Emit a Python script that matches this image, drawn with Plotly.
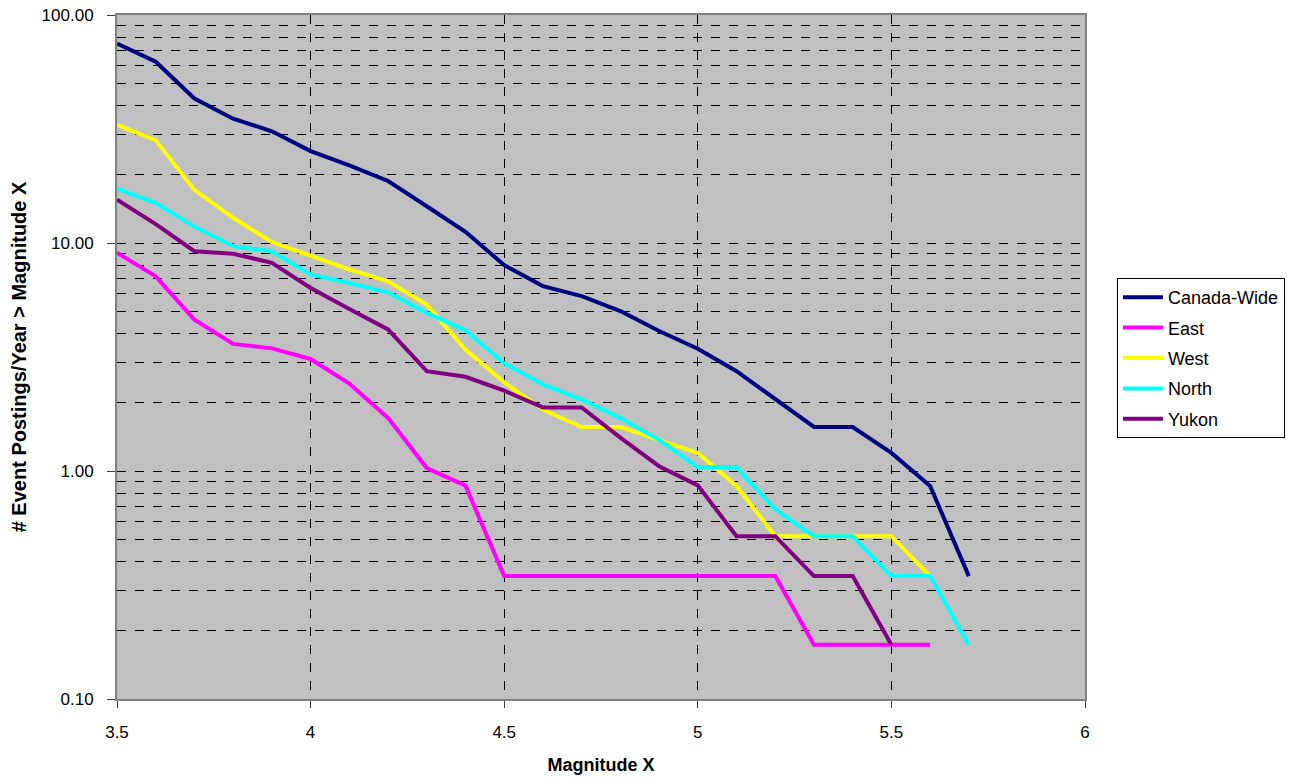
import plotly.graph_objects as go

# Magnitude thresholds (X axis)
magnitudes = [3.5, 3.6, 3.7, 3.8, 3.9, 4.0, 4.1, 4.2, 4.3, 4.4, 4.5, 4.6,
              4.7, 4.8, 4.9, 5.0, 5.1, 5.2, 5.3, 5.4, 5.5, 5.6, 5.7]

# Event postings per year above each magnitude, by region
canada_wide = [75.0, 62.4, 43.0, 35.1, 30.9, 25.3, 21.9, 18.7, 14.5, 11.2, 8.0, 6.47,
               5.85, 5.03, 4.11, 3.44, 2.74, 2.06, 1.56, 1.56, 1.20, 0.86, 0.346]
east = [9.06, 7.14, 4.61, 3.61, 3.45, 3.10, 2.42, 1.71, 1.03, 0.863, 0.346, 0.346,
        0.346, 0.346, 0.346, 0.346, 0.346, 0.346, 0.173, 0.173, 0.173, 0.173]
west = [33.1, 28.2, 17.1, 12.9, 10.1, 8.76, 7.66, 6.79, 5.37, 3.41, 2.45, 1.86,
        1.56, 1.56, 1.37, 1.20, 0.86, 0.518, 0.518, 0.518, 0.518, 0.346]
north = [17.3, 15.0, 11.8, 9.69, 9.2, 7.28, 6.68, 6.08, 4.94, 4.14, 2.97, 2.40,
         2.06, 1.71, 1.37, 1.04, 1.04, 0.68, 0.518, 0.518, 0.346, 0.346, 0.173]
yukon = [15.5, 12.1, 9.2, 8.97, 8.19, 6.35, 5.14, 4.18, 2.74, 2.59, 2.25, 1.90,
         1.90, 1.40, 1.05, 0.865, 0.518, 0.518, 0.346, 0.346, 0.173]

series = [
    ("Canada-Wide", canada_wide, "#000080"),
    ("East", east, "#FF00FF"),
    ("West", west, "#FFFF00"),
    ("North", north, "#00FFFF"),
    ("Yukon", yukon, "#800080"),
]

fig = go.Figure()
for name, values, color in series:
    fig.add_trace(go.Scatter(
        x=magnitudes[:len(values)], y=values, name=name, mode="lines",
        legendgroup=name,
        line=dict(color=color, width=4),
    ))

font_family = "Liberation Sans, Arial, sans-serif"

fig.update_layout(
    width=1306, height=779,
    margin=dict(l=117, r=221, t=15, b=80),
    paper_bgcolor="white",
    plot_bgcolor="#C0C0C0",
    font=dict(family=font_family, size=17, color="black"),
    showlegend=True,
    legend=dict(
        x=1.033, y=0.6155, xanchor="left", yanchor="top",
        bgcolor="white", bordercolor="black", borderwidth=1,
        font=dict(size=18, family=font_family, color="black"),
        tracegroupgap=4, itemwidth=40,
    ),
    xaxis=dict(
        range=[3.5, 6], dtick=0.5, tick0=3.5,
        automargin=False,
        showgrid=True, gridcolor="black", griddash="dash", gridwidth=1,
        zeroline=False,
        showline=True, linecolor="#808080", linewidth=2, mirror=True,
        ticks="outside", ticklen=7, tickcolor="#404040",
        tickfont=dict(size=17),
        ticklabelstandoff=10,
        title=dict(text="<b>Magnitude X</b>", font=dict(size=18), standoff=17),
    ),
    yaxis=dict(
        type="log", range=[-1, 2], dtick=1,
        tickformat=".2f",
        automargin=False,
        showgrid=True, gridcolor="black", griddash="dash", gridwidth=1,
        minor=dict(dtick="D1", showgrid=True, gridcolor="black",
                   griddash="dash", gridwidth=1, ticks=""),
        zeroline=False,
        showline=True, linecolor="#808080", linewidth=2, mirror=True,
        ticks="outside", ticklen=8, tickcolor="#404040",
        tickfont=dict(size=17),
        ticklabelstandoff=10,
        title=dict(text="<b># Event Postings/Year > Magnitude X</b>",
                   font=dict(size=20), standoff=10),
    ),
)

fig.write_html("out.html")
